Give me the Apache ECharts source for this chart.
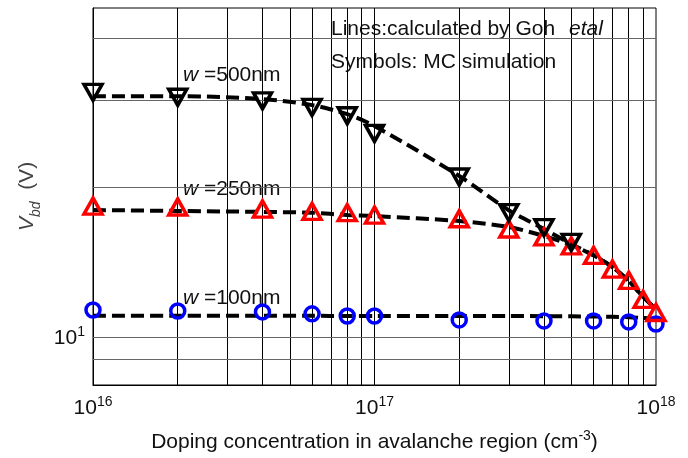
<!DOCTYPE html>
<html>
<head>
<meta charset="utf-8">
<script src="https://cdn.jsdelivr.net/npm/echarts@6/dist/echarts.min.js"></script>
<style>
  html, body { margin: 0; padding: 0; background: #fff; }
  #chart { width: 688px; height: 458px; }
</style>
</head>
<body>
<div id="chart"></div>
<script>
// doping concentration (cm^-3)
var doping = [1e16, 2e16, 4e16, 6e16, 8e16, 1e17, 2e17, 3e17, 4e17, 5e17, 6e17, 7e17, 8e17, 9e17, 1e18];
var doping500 = [1e16, 2e16, 4e16, 6e16, 8e16, 1e17, 2e17, 3e17, 4e17, 5e17];
var doping100 = [1e16, 2e16, 4e16, 6e16, 8e16, 1e17, 2e17, 4e17, 6e17, 8e17, 1e18];

// MC simulation (symbols)
var mc500 = [31.1, 30.4, 29.9, 29.0, 27.9, 25.7, 21.0, 17.8, 16.6, 15.5];
var mc250 = [18.35, 18.27, 18.1, 17.9, 17.8, 17.6, 17.3, 16.5, 15.9, 15.25, 14.6, 13.7, 13.0, 11.9, 11.2];
var mc100 = [11.33, 11.28, 11.23, 11.13, 11.02, 11.02, 10.82, 10.77, 10.77, 10.72, 10.62];

// calculated by Goh et al (dashed lines)
var calc500 = [30.56, 30.56, 30.14, 29.31, 28.1, 26.6, 21.1, 18.0, 16.5, 15.39, 14.6, 13.83, 12.96, 12.04, 11.38];
var calc250 = [18.02, 17.94, 17.86, 17.79, 17.6, 17.52, 17.12, 16.65, 15.97, 15.32, 14.6, 13.83, 12.96, 12.04, 11.38];
var calc100 = [11.03, 11.03, 11.03, 11.03, 11.02, 11.02, 11.02, 11.02, 11.01, 11.0, 10.99, 10.98, 10.96, 10.92, 10.87];

// grid lines
var xGridValues = [2e16, 3e16, 4e16, 5e16, 6e16, 7e16, 8e16, 9e16, 1e17,
                   2e17, 3e17, 4e17, 5e17, 6e17, 7e17, 8e17, 9e17];
var yGridValues = [9, 10, 20, 30, 40];

var FONT = 'Liberation Sans, Arial, sans-serif';

function pairs(xs, ys) {
    var out = [];
    for (var i = 0; i < ys.length; i++) {
        out.push([xs[i], ys[i]]);
    }
    return out;
}

function dashedLine(name, xs, ys) {
    return {
        name: name,
        type: 'line',
        data: pairs(xs, ys),
        symbol: 'none',
        smooth: 0.3,
        z: 2,
        lineStyle: { color: '#000', width: 4, type: [13, 6] }
    };
}

function symbols(name, xs, ys, symbol, color, rotate, size) {
    return {
        name: name,
        type: 'scatter',
        data: pairs(xs, ys),
        symbol: symbol,
        symbolSize: size,
        symbolRotate: rotate,
        z: 3,
        itemStyle: { color: 'rgba(255,255,255,0)', borderColor: color, borderWidth: 3.5, opacity: 1 }
    };
}

var gridLines = [];
for (var i = 0; i < xGridValues.length; i++) {
    gridLines.push({ xAxis: xGridValues[i], lineStyle: { color: '#000', width: 1, type: 'solid' } });
}
for (var j = 0; j < yGridValues.length; j++) {
    gridLines.push({ yAxis: yGridValues[j], lineStyle: { color: '#666', width: 1, type: 'solid' } });
}

var myChart = echarts.init(document.getElementById('chart'));

var option = {
    animation: false,
    backgroundColor: '#fff',
    grid: {
        left: 93, right: 32, top: 8, bottom: 72,
        show: true, borderColor: '#000', borderWidth: 1, backgroundColor: 'transparent'
    },
    xAxis: {
        type: 'log',
        logBase: 10,
        min: 1e16,
        max: 1e18,
        name: '{n|Doping concentration in avalanche region (cm}{s|-3}{n|)}',
        nameLocation: 'middle',
        nameGap: 44,
        nameTextStyle: {
            rich: {
                n: { fontFamily: FONT, fontSize: 21, color: '#111', lineHeight: 24, verticalAlign: 'bottom' },
                s: { fontFamily: FONT, fontSize: 14, color: '#111', lineHeight: 24, verticalAlign: 'top' }
            }
        },
        axisLine: { lineStyle: { color: '#000', width: 1 } },
        axisTick: { show: false },
        splitLine: { show: false },
        axisLabel: {
            margin: 10,
            formatter: function (v) {
                return '{b|10}{s|' + Math.round(Math.log10(v)) + '}';
            },
            rich: {
                b: { fontFamily: FONT, fontSize: 21, color: '#111', lineHeight: 24, verticalAlign: 'bottom' },
                s: { fontFamily: FONT, fontSize: 14, color: '#111', lineHeight: 24, verticalAlign: 'top' }
            }
        }
    },
    yAxis: {
        type: 'log',
        logBase: 10,
        min: 8,
        max: 46,
        name: '{i|V}{sub|bd}{n|  (V)}',
        nameLocation: 'middle',
        nameRotate: 90,
        nameGap: 48,
        nameTextStyle: {
            rich: {
                i: { fontFamily: FONT, fontSize: 21, fontStyle: 'italic', color: '#444', lineHeight: 26, verticalAlign: 'top' },
                sub: { fontFamily: FONT, fontSize: 14, fontStyle: 'italic', color: '#444', lineHeight: 26, verticalAlign: 'bottom' },
                n: { fontFamily: FONT, fontSize: 21, color: '#444', lineHeight: 26, verticalAlign: 'top' }
            }
        },
        axisLine: { lineStyle: { color: '#000', width: 1 } },
        axisTick: { show: false },
        splitLine: { show: false },
        axisLabel: {
            margin: 8,
            showMinLabel: false,
            showMaxLabel: false,
            formatter: function (v) {
                if (Math.abs(Math.log10(v) - 1) < 1e-6) {
                    return '{b|10}{s|1}';
                }
                return '';
            },
            rich: {
                b: { fontFamily: FONT, fontSize: 21, color: '#111', lineHeight: 24, verticalAlign: 'bottom' },
                s: { fontFamily: FONT, fontSize: 14, color: '#111', lineHeight: 24, verticalAlign: 'top' }
            }
        }
    },
    graphic: [
        { type: 'text', x: 331, y: 29, style: { text: 'Lines:calculated by Goh  ', font: '21px ' + FONT, fill: '#111', verticalAlign: 'middle' } },
        { type: 'text', x: 569, y: 29, style: { text: 'etal', font: 'italic 21px ' + FONT, fill: '#111', verticalAlign: 'middle' } },
        { type: 'text', x: 331, y: 62, style: { text: 'Symbols: MC simulation', font: '21px ' + FONT, fill: '#111', verticalAlign: 'middle' } },
        { type: 'text', x: 183, y: 75, style: { text: 'w', font: 'italic 21px ' + FONT, fill: '#111', verticalAlign: 'middle' } },
        { type: 'text', x: 204, y: 75, style: { text: '=500nm', font: '21px ' + FONT, fill: '#111', verticalAlign: 'middle' } },
        { type: 'text', x: 183, y: 189, style: { text: 'w', font: 'italic 21px ' + FONT, fill: '#111', verticalAlign: 'middle' } },
        { type: 'text', x: 204, y: 189, style: { text: '=250nm', font: '21px ' + FONT, fill: '#111', verticalAlign: 'middle' } },
        { type: 'text', x: 183, y: 298, style: { text: 'w', font: 'italic 21px ' + FONT, fill: '#111', verticalAlign: 'middle' } },
        { type: 'text', x: 204, y: 298, style: { text: '=100nm', font: '21px ' + FONT, fill: '#111', verticalAlign: 'middle' } }
    ],
    series: [
        {
            name: 'grid',
            type: 'line',
            data: [],
            silent: true,
            markLine: {
                silent: true,
                z: 1,
                symbol: 'none',
                animation: false,
                label: { show: false },
                emphasis: { disabled: true },
                data: gridLines
            }
        },
        dashedLine('calc 100nm', doping, calc100),
        dashedLine('calc 250nm', doping, calc250),
        dashedLine('calc 500nm', doping, calc500),
        symbols('MC 100nm', doping100, mc100, 'circle', '#0000ff', 0, 14),
        symbols('MC 250nm', doping, mc250, 'triangle', '#ff0000', 0, [18, 16]),
        symbols('MC 500nm', doping500, mc500, 'triangle', '#000', 180, [18, 16])
    ]
};

myChart.setOption(option);
</script>
</body>
</html>
